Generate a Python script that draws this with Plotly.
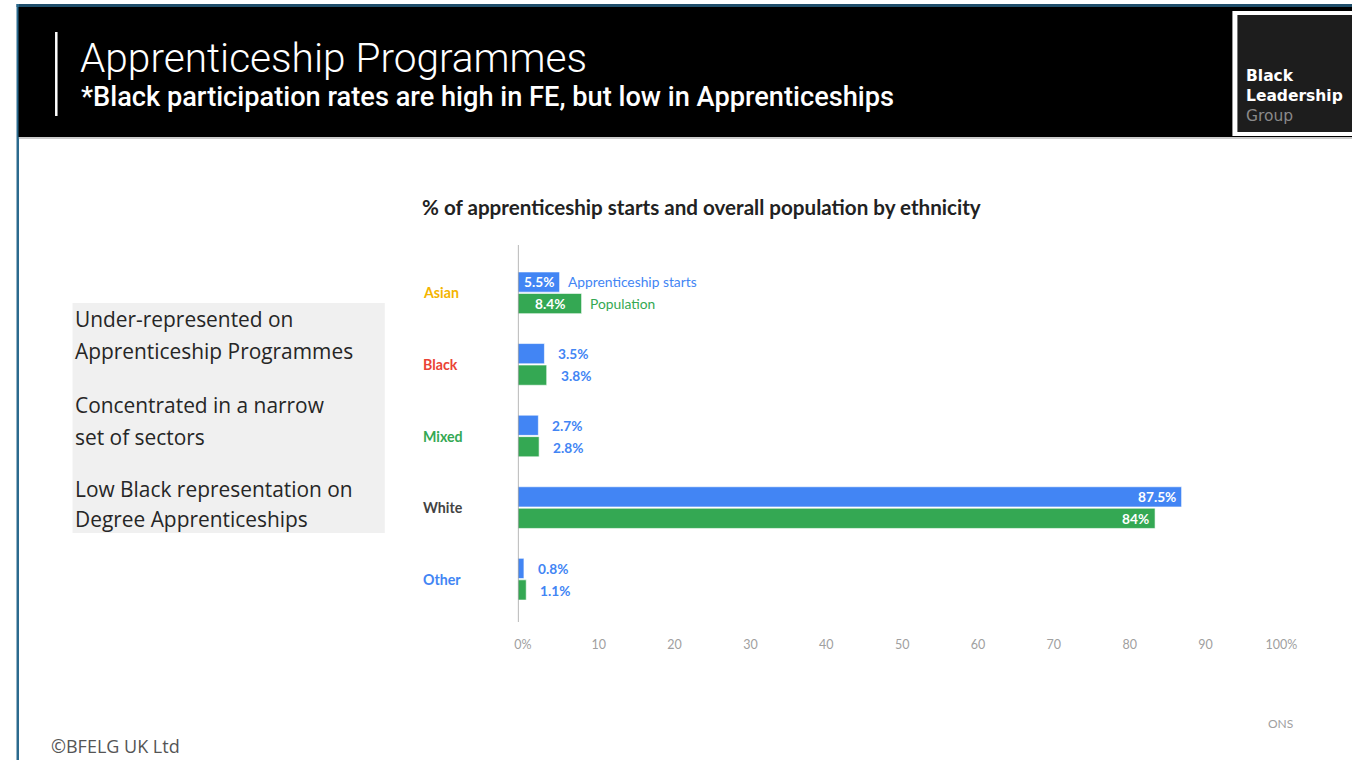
import plotly.graph_objects as go

# ---- data -------------------------------------------------------------
ethnicities = ["Asian", "Black", "Mixed", "White", "Other"]
apprenticeship_starts = [5.5, 3.5, 2.7, 87.5, 0.8]
population = [8.4, 3.8, 2.8, 84.0, 1.1]
label_colors = ["#F4B400", "#EA4335", "#34A853", "#434343", "#4285F4"]
tick_values = [0, 10, 20, 30, 40, 50, 60, 70, 80, 90, 100]
tick_labels = ["0%", "10", "20", "30", "40", "50", "60", "70", "80", "90", "100%"]
side_notes = [
    ["Under-represented on", "Apprenticeship Programmes"],
    ["Concentrated in a narrow", "set of sectors"],
    ["Low Black representation on", "Degree Apprenticeships"],
]

FIG_W, H = 1374, 760
# horizontal slide grid: page x (0..1352) -> paper fraction
GRID_X0, GRID_W = 4.5, 1348
BLUE = "#4285F4"
GREEN = "#34A853"


def px(x):
    return (x - GRID_X0) / GRID_W


def py(y):
    return 1 - y / H


def fmt(v):
    return f"{v:g}%"


fig = go.Figure()
fig.add_trace(go.Bar(y=ethnicities, x=apprenticeship_starts, orientation="h",
                     name="Apprenticeship starts", marker_color=BLUE,
                     marker_line=dict(color="rgba(255,255,255,0.6)", width=1),
                     hoverinfo="x+y"))
fig.add_trace(go.Bar(y=ethnicities, x=population, orientation="h",
                     name="Population", marker_color=GREEN,
                     marker_line=dict(color="rgba(255,255,255,0.6)", width=1),
                     hoverinfo="x+y"))

shapes = []
annotations = []

# page frame: top rule, left rule, header band
shapes.append(dict(type="rect", xref="paper", yref="paper", x0=px(17), x1=1,
                   y0=py(7), y1=py(4), fillcolor="#1f4e6b", line_width=0, layer="below"))
shapes.append(dict(type="rect", xref="paper", yref="paper", x0=px(17), x1=px(19.5),
                   y0=0, y1=py(4), fillcolor="#2b6a8e", line_width=0, layer="below"))
shapes.append(dict(type="rect", xref="paper", yref="paper", x0=px(19), x1=1,
                   y0=py(137), y1=py(7), fillcolor="#000000", line_width=0, layer="below"))
shapes.append(dict(type="line", xref="paper", yref="paper", x0=px(19), x1=1,
                   y0=py(138), y1=py(138), line=dict(color="#9a9a9a", width=1)))
# accent bar beside the title
shapes.append(dict(type="rect", xref="paper", yref="paper", x0=px(55.5), x1=px(58),
                   y0=py(116), y1=py(32), fillcolor="#ffffff", line_width=0))
# logo box
shapes.append(dict(type="rect", xref="paper", yref="paper", x0=px(1232), x1=1,
                   y0=py(136), y1=py(11), fillcolor="#ffffff", line_width=0))
shapes.append(dict(type="rect", xref="paper", yref="paper", x0=px(1237), x1=1,
                   y0=py(132), y1=py(15), fillcolor="#1d1d1d", line_width=0))
# side notes panel
shapes.append(dict(type="rect", xref="paper", yref="paper", x0=px(73), x1=px(385),
                   y0=py(533), y1=py(303), fillcolor="#f0f0f0", line_width=0, layer="below"))
# value axis baseline
shapes.append(dict(type="line", xref="x", yref="paper", x0=0, x1=0,
                   y0=py(622), y1=py(245), line=dict(color="#9e9e9e", width=1.5)))

# header texts
annotations.append(dict(text="Apprenticeship Programmes", xref="paper", yref="paper",
                        x=px(78), y=py(58), xanchor="left", yanchor="middle", showarrow=False,
                        font=dict(family="Roboto", size=40.6, color="#ffffff", weight=300)))
annotations.append(dict(text="*Black participation rates are high in FE, but low in Apprenticeships",
                        xref="paper", yref="paper", x=px(79), y=py(97), xanchor="left",
                        yanchor="middle", showarrow=False,
                        font=dict(family="Roboto", size=27.2, color="#ffffff", weight=500)))
annotations.append(dict(text="<b>Black</b><br><b>Leadership</b><br><span style='color:#8a8a8a'>Group</span>",
                        xref="paper", yref="paper", x=px(1244), y=py(96), xanchor="left",
                        yanchor="middle", align="left", showarrow=False,
                        font=dict(family="DejaVu Sans", size=15.5, color="#ffffff")))

# side notes
line_y = [[319, 351], [405, 437], [489, 519]]
for note, ys in zip(side_notes, line_y):
    for txt, yy in zip(note, ys):
        annotations.append(dict(text=txt, xref="paper", yref="paper", x=px(73), y=py(yy),
                                xanchor="left", yanchor="middle", showarrow=False,
                                font=dict(family="Open Sans", size=20.9, color="#262626")))

# chart title
annotations.append(dict(text="% of apprenticeship starts and overall population by ethnicity",
                        xref="paper", yref="paper", x=px(420), y=py(207), xanchor="left",
                        yanchor="middle", showarrow=False,
                        font=dict(family="Lato", size=20.6, color="#222222", weight="bold")))

# category labels
for cat, col in zip(ethnicities, label_colors):
    annotations.append(dict(text=cat, xref="paper", yref="y", x=px(421), y=cat,
                            xanchor="left", yanchor="middle", showarrow=False,
                            font=dict(family="Lato", size=14.2, color=col, weight="bold")))

# bar value labels
SHIFT = 11
for i, cat in enumerate(ethnicities):
    for vals, ys in [(apprenticeship_starts, SHIFT), (population, -SHIFT)]:
        v = vals[i]
        f = dict(family="Lato", size=13.7, weight="bold")
        if cat == "Asian":
            annotations.append(dict(text=fmt(v), xref="x", yref="y", x=v / 2, y=cat, yshift=ys,
                                    xanchor="center", yanchor="middle", showarrow=False,
                                    font=dict(f, color="#ffffff")))
        elif cat == "White":
            annotations.append(dict(text=fmt(v), xref="x", yref="y", x=v, y=cat, yshift=ys,
                                    xshift=-4, xanchor="right", yanchor="middle", showarrow=False,
                                    font=dict(f, color="#ffffff")))
        else:
            annotations.append(dict(text=fmt(v), xref="x", yref="y", x=v, y=cat, yshift=ys,
                                    xshift=12, xanchor="left", yanchor="middle", showarrow=False,
                                    font=dict(f, color=BLUE)))

# series names beside the first pair of bars
annotations.append(dict(text="Apprenticeship starts", xref="x", yref="y",
                        x=apprenticeship_starts[0], y=ethnicities[0], yshift=SHIFT, xshift=6,
                        xanchor="left", yanchor="middle", showarrow=False,
                        font=dict(family="Lato", size=13.8, color=BLUE)))
annotations.append(dict(text="Population", xref="x", yref="y",
                        x=population[0], y=ethnicities[0], yshift=-SHIFT, xshift=6,
                        xanchor="left", yanchor="middle", showarrow=False,
                        font=dict(family="Lato", size=13.8, color=GREEN)))

# source and copyright
annotations.append(dict(text="ONS", xref="paper", yref="paper", x=px(1280), y=py(723),
                        xanchor="center", yanchor="middle", showarrow=False,
                        font=dict(family="Lato", size=12, color="#a0a0a0")))
annotations.append(dict(text="©BFELG UK Ltd", xref="paper", yref="paper", x=px(49), y=py(746),
                        xanchor="left", yanchor="middle", showarrow=False,
                        font=dict(family="Open Sans", size=18, color="#555555")))

fig.update_layout(
    width=FIG_W, height=H,
    margin=dict(l=0, r=0, t=0, b=0),
    paper_bgcolor="#ffffff", plot_bgcolor="#ffffff",
    barmode="group", bargap=0.4, bargroupgap=0.06,
    showlegend=False,
    shapes=shapes, annotations=annotations,
    xaxis=dict(domain=[px(518), px(1276)], range=[0, 100], tickvals=tick_values,
               ticktext=tick_labels, showgrid=False, zeroline=False, showline=False,
               ticks="", ticklabelstandoff=20, ticklabelshift=5,
               tickfont=dict(family="Lato", size=12.5, color="#a0a0a0")),
    yaxis=dict(domain=[py(615), py(257)], range=[4.5, -0.5], categoryorder="array",
               categoryarray=ethnicities, showticklabels=False, showgrid=False,
               zeroline=False, showline=False, ticks=""),
)

fig.write_html("out.html", config={"responsive": False})
